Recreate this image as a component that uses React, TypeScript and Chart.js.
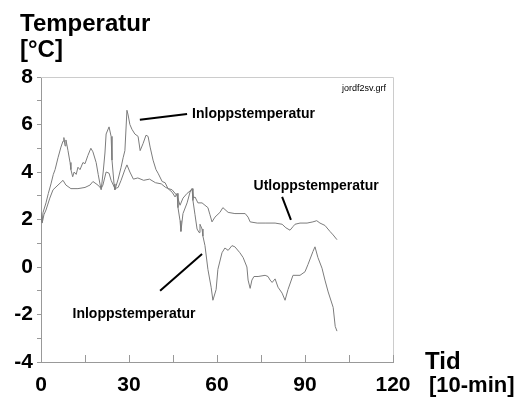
import React, { useEffect, useRef } from "react";
import { Chart, registerables } from "chart.js";

Chart.register(...registerables);

// Time in 10-min steps and temperatures (°C)
const inloppTid = [0, 0.4, 0.7, 1.7, 2.5, 3.4, 4.2, 4.8, 5.8, 6.8, 7.5, 7.8, 8.2, 8.5, 9.2, 9.9, 10.2, 10.8, 11.3, 12, 12.6, 13.3, 14.3, 15, 16, 17, 17.7, 18.8, 19.5, 20.1, 20.5, 21.2, 21.8, 22.2, 23.2, 23.9, 24.2, 24.9, 25.2, 26.3, 27.3, 28, 28.6, 29.3, 29.7, 30.3, 31.0, 32.0, 33.1, 33.8, 34.8, 35.8, 36.5, 37.2, 38.2, 39.2, 39.9, 41.3, 42.3, 43.3, 44.7, 45.7, 46.4, 46.7, 47.4, 47.7, 48.4, 49.8, 50.8, 51.5, 51.8, 52.5, 53.2, 53.9, 54.2, 54.9, 55.2, 55.9, 56.9, 58.0, 58.6, 59.7, 60.3, 61.7, 62.7, 63.8, 65.1, 66.1, 67.8, 68.9, 70.2, 70.6, 71.3, 71.9, 72.6, 74.0, 76.4, 77.4, 78.1, 78.8, 79.8, 80.8, 82.2, 83.2, 84.2, 85.9, 88.3, 90.0, 91.0, 92.7, 93.4, 94.4, 95.8, 96.8, 97.9, 99.6, 100.3, 100.9];
const inloppTemp = [2.2, 1.9, 2.3, 2.7, 3.1, 3.5, 3.9, 4.1, 4.6, 5.05, 5.3, 5.45, 5.1, 5.35, 4.9, 4.4, 4.1, 3.8, 4.0, 3.9, 4.2, 4.1, 4.4, 4.35, 4.7, 5.0, 4.85, 4.4, 3.9, 3.5, 3.25, 4.0, 4.8, 5.6, 5.9, 5.5, 4.5, 3.5, 3.25, 3.7, 4.2, 4.6, 4.9, 6.6, 6.4, 6.0, 5.8, 5.6, 5.5, 4.9, 5.2, 5.55, 5.5, 5.05, 4.5, 4.1, 3.95, 3.6, 3.55, 3.3, 3.15, 2.95, 3.1, 2.5, 1.95, 1.5, 2.25, 2.7, 3.15, 3.3, 2.8, 2.2, 1.6, 1.45, 1.8, 1.6, 1.3, 0.9, -0.1, -0.85, -1.4, -0.95, -0.1, 0.6, 0.8, 0.7, 0.9, 0.85, 0.6, 0.4, 0.0, -0.55, -0.9, -0.55, -0.4, -0.4, -0.35, -0.4, -0.55, -0.65, -0.5, -0.85, -1.1, -1.4, -0.95, -0.35, -0.35, -0.2, 0.1, 0.65, 0.85, 0.4, -0.05, -0.55, -1.05, -1.7, -2.5, -2.7];

const utloppTid = [0, 0.4, 1.0, 1.7, 3.0, 4.1, 5.8, 7.5, 8.5, 10.2, 12.6, 15, 16.7, 17.7, 19.4, 20.5, 21.1, 22.2, 23.2, 23.9, 25.2, 26.3, 27.3, 28.6, 29.3, 30.3, 31.5, 33, 35, 37, 39, 41, 42.5, 43.5, 44.7, 46.4, 47.4, 48.4, 49.8, 50.8, 51.5, 52.0, 52.5, 53.5, 54.9, 55.9, 56.9, 57.6, 58.3, 59.3, 61.0, 62.0, 63.8, 66.1, 69.6, 70.6, 71.3, 73.7, 76.4, 79.8, 82.2, 83.5, 84.9, 85.9, 86.6, 88.3, 90.7, 92.7, 94.0, 95.1, 96.8, 98.5, 99.6, 100.9];
const utloppTemp = [2.3, 1.85, 2.2, 2.4, 2.9, 3.25, 3.45, 3.65, 3.45, 3.3, 3.3, 3.35, 3.45, 3.6, 3.45, 3.3, 3.45, 4.0, 3.95, 3.65, 3.3, 3.35, 3.65, 4.1, 4.3, 4.0, 3.7, 3.75, 3.65, 3.7, 3.55, 3.5, 3.35, 3.3, 3.25, 3.0, 2.6, 2.9, 3.1, 3.2, 3.3, 2.9, 2.95, 2.7, 2.7, 2.6, 2.5, 2.2, 1.9, 2.1, 2.3, 2.5, 2.3, 2.25, 2.25, 2.1, 1.9, 1.85, 1.85, 1.85, 1.8, 1.65, 1.55, 1.7, 1.8, 1.85, 1.85, 1.9, 1.95, 1.85, 1.75, 1.5, 1.35, 1.15];

const xTicks = [0, 30, 60, 90, 120];
const yTicks = [-4, -2, 0, 2, 4, 6, 8];

const FONT = "'Liberation Sans', Arial, sans-serif";
const LINE_COLOR = "#7c7c7c";

const annotPlugin = {
  id: "annot",
  afterDraw(chart: any) {
    const { ctx, chartArea, scales } = chart;
    const xs = scales.x;
    const ys = scales.y;
    const px = (v: number) => xs.getPixelForValue(v);
    const py = (v: number) => ys.getPixelForValue(v);
    ctx.save();
    // top & right frame
    ctx.strokeStyle = "#cccccc";
    ctx.lineWidth = 1;
    ctx.beginPath();
    ctx.moveTo(chartArea.left, chartArea.top + 0.5);
    ctx.lineTo(chartArea.right + 0.5, chartArea.top + 0.5);
    ctx.lineTo(chartArea.right + 0.5, chartArea.bottom);
    ctx.stroke();
    // inward x tick marks
    ctx.strokeStyle = "#999999";
    ctx.beginPath();
    for (let v = 15; v <= 120; v += 15) {
      const x = Math.round(px(v)) + 0.5;
      ctx.moveTo(x, chartArea.bottom);
      ctx.lineTo(x, chartArea.bottom - 7);
    }
    ctx.stroke();

    // leader lines
    ctx.strokeStyle = "#000";
    ctx.lineWidth = 2;
    ctx.beginPath();
    ctx.moveTo(px(33.7), py(6.2));
    ctx.lineTo(px(49.8), py(6.44));
    ctx.moveTo(px(82.2), py(2.95));
    ctx.lineTo(px(85.2), py(1.98));
    ctx.moveTo(px(40.6), py(-1.0));
    ctx.lineTo(px(54.9), py(0.55));
    ctx.stroke();

    ctx.fillStyle = "#000";
    ctx.font = `bold 14px ${FONT}`;
    ctx.textBaseline = "middle";
    ctx.textAlign = "left";
    ctx.fillText("Inloppstemperatur", px(51.5), py(6.44));
    ctx.textAlign = "center";
    ctx.fillText("Utloppstemperatur", px(93.8), py(3.41));
    ctx.fillText("Inloppstemperatur", px(31.7), py(-2.0));

    ctx.font = `9px ${FONT}`;
    ctx.textAlign = "right";
    ctx.fillText("jordf2sv.grf", px(117.6), py(7.5));

    // axis titles
    ctx.font = `bold 24px ${FONT}`;
    ctx.textAlign = "left";
    ctx.fillText("Temperatur", 20, 24);
    ctx.fillText("[°C]", 20, 50);
    ctx.fillText("Tid", 425, 362);
    ctx.font = `bold 22px ${FONT}`;
    ctx.fillText("[10-min]", 429, 386);
    ctx.restore();
  },
};

export default function App() {
  const ref = useRef<HTMLCanvasElement | null>(null);
  useEffect(() => {
    document.body.style.margin = "0";
    const canvas = ref.current!;
    const chart = new Chart(canvas, {
      type: "line",
      data: {
        datasets: [
          {
            label: "Inloppstemperatur",
            data: inloppTid.map((t, i) => ({ x: t, y: inloppTemp[i] })),
            borderColor: LINE_COLOR,
            borderWidth: 1,
            pointRadius: 0,
            tension: 0,
          },
          {
            label: "Utloppstemperatur",
            data: utloppTid.map((t, i) => ({ x: t, y: utloppTemp[i] })),
            borderColor: LINE_COLOR,
            borderWidth: 1,
            pointRadius: 0,
            tension: 0,
          },
        ],
      },
      options: {
        responsive: false,
        animation: false,
        layout: { padding: { left: 0, right: 123, top: 77, bottom: 0 } },
        plugins: { legend: { display: false }, tooltip: { enabled: false } },
        scales: {
          x: {
            type: "linear",
            min: 0,
            max: 120,
            afterFit: (s: any) => {
              s.height = 38;
            },
            afterBuildTicks: (s: any) => {
              s.ticks = xTicks.map((v) => ({ value: v }));
            },
            ticks: {
              autoSkip: false,
              maxRotation: 0,
              padding: 11,
              color: "#000",
              font: { family: FONT, size: 21, weight: "bold" },
            },
            grid: { display: false, drawTicks: false },
            border: { display: true, color: "#999999", width: 1 },
          },
          y: {
            min: -4,
            max: 8,
            afterFit: (s: any) => {
              s.width = 41;
            },
            afterBuildTicks: (s: any) => {
              const t: any[] = [];
              for (let v = -4; v <= 8; v++) t.push({ value: v });
              s.ticks = t;
            },
            ticks: {
              autoSkip: false,
              padding: 4,
              color: "#000",
              font: { family: FONT, size: 21, weight: "bold" },
              callback: (v: any) => (yTicks.includes(Number(v)) ? String(v) : ""),
            },
            grid: { display: true, drawOnChartArea: false, drawTicks: true, tickLength: 4, color: "#999999" },
            border: { display: true, color: "#999999", width: 1 },
          },
        },
      },
      plugins: [annotPlugin],
    } as any);
    return () => chart.destroy();
  }, []);
  return <canvas ref={ref} width={516} height={400} style={{ display: "block" }} />;
}
